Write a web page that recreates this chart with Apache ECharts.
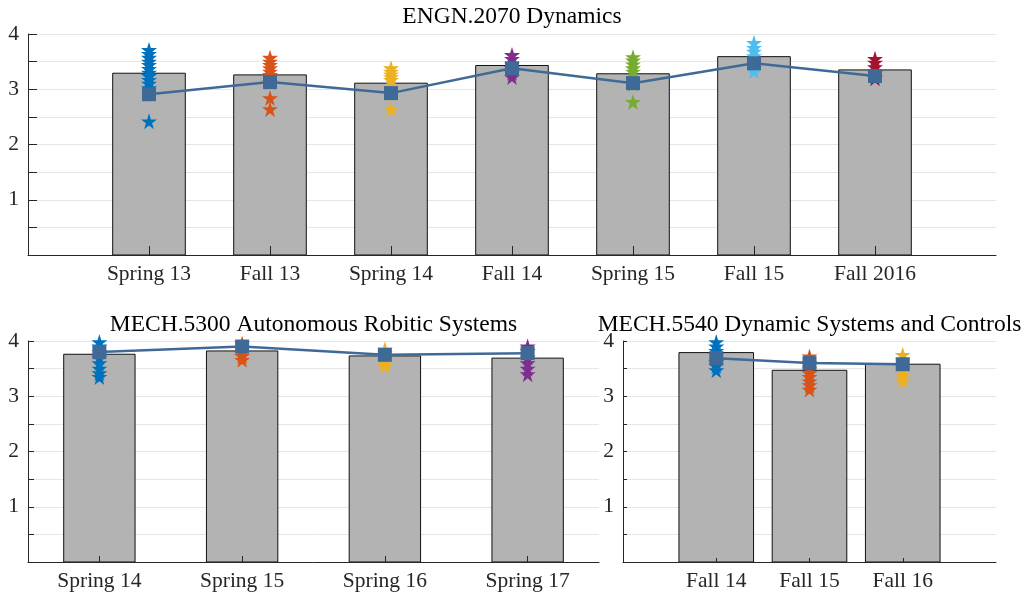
<!DOCTYPE html>
<html>
<head>
<meta charset="utf-8">
<script src="https://cdn.jsdelivr.net/npm/echarts@6/dist/echarts.min.js"></script>
<style>html,body{margin:0;padding:0;background:#fff;}#c{width:1032px;height:597px;}</style>
</head>
<body>
<div id="c"></div>
<script>
// ---- data ----
const titles = ['ENGN.2070 Dynamics', 'MECH.5300 Autonomous Robitic Systems', 'MECH.5540 Dynamic Systems and Controls'];
const terms1 = ['Spring 13', 'Fall 13', 'Spring 14', 'Fall 14', 'Spring 15', 'Fall 15', 'Fall 2016'];
const bars1 = [3.29, 3.26, 3.11, 3.43, 3.28, 3.59, 3.35];
const avg1 = [2.91, 3.13, 2.93, 3.38, 3.11, 3.47, 3.24];
const stars1 = [
  [3.71, 3.64, 3.57, 3.50, 3.44, 3.37, 3.30, 3.24, 3.17, 3.10, 3.02, 2.42],
  [3.57, 3.50, 3.44, 3.38, 3.32, 3.26, 3.13, 2.84, 2.64],
  [3.38, 3.32, 3.27, 3.22, 3.17, 2.93, 2.64],
  [3.62, 3.55, 3.45, 3.38, 3.30, 3.22],
  [3.58, 3.52, 3.45, 3.38, 3.32, 3.10, 2.77],
  [3.84, 3.75, 3.68, 3.60, 3.52, 3.42, 3.33],
  [3.55, 3.48, 3.40, 3.30, 3.20]
];
const terms2 = ['Spring 14', 'Spring 15', 'Spring 16', 'Spring 17'];
const bars2 = [3.76, 3.82, 3.73, 3.69];
const avg2 = [3.80, 3.90, 3.75, 3.78];
const stars2 = [
  [3.98, 3.90, 3.80, 3.70, 3.60, 3.50, 3.42, 3.35],
  [3.95, 3.87, 3.80, 3.73, 3.66],
  [3.85, 3.78, 3.70, 3.62, 3.55],
  [3.90, 3.82, 3.70, 3.60, 3.50, 3.40]
];
const terms3 = ['Fall 14', 'Fall 15', 'Fall 16'];
const bars3 = [3.79, 3.47, 3.58];
const avg3 = [3.69, 3.60, 3.58];
const stars3 = [
  [3.98, 3.90, 3.82, 3.75, 3.62, 3.55, 3.47],
  [3.72, 3.60, 3.50, 3.42, 3.35, 3.27, 3.20, 3.12],
  [3.75, 3.65, 3.45, 3.38, 3.28]
];
const yTickLabels = [1, 2, 3, 4];

// ---- style ----
const starColors = ['#0072BD', '#D95319', '#EDB120', '#7E2F8E', '#77AC30', '#4DBEEE', '#A2142F'];
const lineColor = '#3F6A98';
const axisColor = '#262626';
const FONT = 'Liberation Serif';
const STAR = 'path://M50,0 L61.8,36.2 L100,36.2 L69.1,58.8 L80.9,95.1 L50,72.6 L19.1,95.1 L30.9,58.8 L0,36.2 L38.2,36.2 Z';

const panels = [
  {terms: terms1, bars: bars1, avg: avg1, stars: stars1, xmin: 0, xmax: 8, bw: 0.6, grid: {left: 28, top: 34, width: 968, height: 221}, tick: 9},
  {terms: terms2, bars: bars2, avg: avg2, stars: stars2, xmin: 0.5, xmax: 4.5, bw: 0.5, grid: {left: 28, top: 341, width: 571, height: 221}, tick: 6},
  {terms: terms3, bars: bars3, avg: avg3, stars: stars3, xmin: 0, xmax: 4, bw: 0.8, grid: {left: 623, top: 341, width: 373, height: 221}, tick: 4}
];
const titlePos = [{x: 512, y: 5}, {x: 313.5, y: 313}, {x: 809.5, y: 313}];

const grid = [], xAxis = [], yAxis = [], series = [], title = [];
panels.forEach((p, gi) => {
  grid.push(Object.assign({containLabel: false}, p.grid));
  title.push({text: titles[gi], left: titlePos[gi].x, top: titlePos[gi].y, textAlign: 'center', padding: 0,
    textStyle: {fontFamily: FONT, fontSize: 23.5, fontWeight: 'normal', color: '#000'}});
  const pos = p.terms.map((t, i) => i + 1);
  xAxis.push({
    gridIndex: gi, type: 'value', min: p.xmin, max: p.xmax, z: 10,
    axisLine: {show: true, onZero: false, lineStyle: {color: axisColor, width: 1}},
    axisTick: {show: true, inside: true, length: p.tick, customValues: pos, lineStyle: {color: axisColor}},
    axisLabel: {show: true, customValues: pos, margin: 8, fontFamily: FONT, fontSize: 21.5, color: '#262626',
      formatter: v => p.terms[Math.round(v) - 1] || ''},
    splitLine: {show: false}
  });
  // visible y axis
  yAxis.push({
    gridIndex: gi, type: 'value', min: 0, max: 4, interval: 0.5, z: 10, position: 'left',
    axisLine: {show: true, lineStyle: {color: axisColor, width: 1}},
    axisTick: {show: true, inside: true, length: p.tick, lineStyle: {color: axisColor}},
    axisLabel: {show: true, customValues: yTickLabels, margin: 9, fontFamily: FONT, fontSize: 21.5, color: '#262626'},
    splitLine: {show: false}
  });
  // grid lines axis (behind)
  yAxis.push({
    gridIndex: gi, type: 'value', min: 0, max: 4, interval: 0.5, z: 0, position: 'left',
    axisLine: {show: false}, axisTick: {show: false}, axisLabel: {show: false},
    splitLine: {show: true, lineStyle: {color: '#e6e6e6', width: 1}}
  });
  const yi = gi * 2;
  series.push({
    type: 'custom', xAxisIndex: gi, yAxisIndex: yi, z: 2,
    data: p.bars.map((v, i) => [pos[i], v]),
    renderItem: function (params, api) {
      const x = api.value(0), y = api.value(1);
      const a = api.coord([x - p.bw / 2, y]);
      const b = api.coord([x + p.bw / 2, 0]);
      return {type: 'rect', shape: {x: a[0], y: a[1], width: b[0] - a[0], height: b[1] - a[1]},
        style: {fill: '#b3b3b3', stroke: '#111', lineWidth: 1}};
    }
  });
  p.stars.forEach((arr, i) => {
    series.push({
      type: 'scatter', xAxisIndex: gi, yAxisIndex: yi, z: 3,
      symbol: STAR, symbolSize: 16, itemStyle: {color: starColors[i % starColors.length], opacity: 1},
      data: arr.map(v => [pos[i], v]), silent: true
    });
  });
  series.push({
    type: 'line', xAxisIndex: gi, yAxisIndex: yi, z: 4,
    data: p.avg.map((v, i) => [pos[i], v]),
    symbol: 'rect', symbolSize: 14, showSymbol: true,
    lineStyle: {color: lineColor, width: 2.5},
    itemStyle: {color: lineColor, borderWidth: 0}
  });
});

const chart = echarts.init(document.getElementById('c'), null, {renderer: 'canvas'});
chart.setOption({animation: false, backgroundColor: '#fff', title, grid, xAxis, yAxis, series});
</script>
</body>
</html>
